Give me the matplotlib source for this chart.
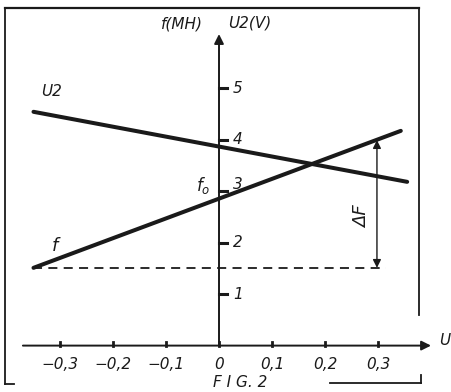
import matplotlib.pyplot as plt
from matplotlib.lines import Line2D

# values
u_ticks = [-0.3, -0.2, -0.1, 0.0, 0.1, 0.2, 0.3]
u_labels = ['\u22120,3', '\u22120,2', '\u22120,1', '0', '0,1', '0,2', '0,3']
v_ticks = [1, 2, 3, 4, 5]
v_labels = ['1', '2', '3', '4', '5']

u2_u = [-0.35, 0.355]
u2_v = [4.54, 3.18]
f_u = [-0.35, 0.343]
f_v = [1.51, 4.17]
f0 = 2.85
f_min = 1.51
df_u = 0.298
df_top = 3.99

plt.rcParams['font.family'] = 'DejaVu Sans'
plt.rcParams['font.style'] = 'italic'

fig = plt.figure(figsize=(4.52, 3.92), dpi=100)
ax = fig.add_axes([0, 0, 1, 1])
ax.set_xlim(-0.4132, 0.4396)
ax.set_ylim(-0.901, 6.711)
ax.axis('off')

ink = '#1a1a1a'

# axes with arrows
ax.annotate('', xy=(0.40, 0), xytext=(-0.37, 0),
            arrowprops=dict(arrowstyle='-|>', color=ink, lw=1.4,
                            mutation_scale=14, shrinkA=0, shrinkB=0))
ax.annotate('', xy=(0, 6.05), xytext=(0, 0),
            arrowprops=dict(arrowstyle='-|>', color=ink, lw=1.4,
                            mutation_scale=14, shrinkA=0, shrinkB=0))

# ticks
for u, lab in zip(u_ticks, u_labels):
    ax.plot([u, u], [0, 0.07], color=ink, lw=2)
    ax.text(u, -0.22, lab, ha='center', va='top', fontsize=11, color=ink)
for v, lab in zip(v_ticks, v_labels):
    ax.plot([0, 0.015], [v, v], color=ink, lw=2.2)
    dy = 0.12 if v == 3 else 0
    ax.text(0.026, v + dy, lab, ha='left', va='center', fontsize=11, color=ink)

# curves
ax.plot(u2_u, u2_v, color=ink, lw=2.9, solid_capstyle='round')
ax.plot(f_u, f_v, color=ink, lw=2.9, solid_capstyle='round')
ax.plot([f_u[0], 0.315], [f_min, f_min], color=ink, lw=1.3,
        linestyle=(0, (5, 3.5)))

# delta F arrow
ax.annotate('', xy=(df_u, df_top), xytext=(df_u, f_min),
            arrowprops=dict(arrowstyle='<|-|>', color=ink, lw=1.0,
                            mutation_scale=12, shrinkA=0, shrinkB=0))
ax.text(0.27, 2.5, '\u0394F', rotation=90, ha='center', va='center',
        fontsize=13, color=ink)

# labels
ax.text(-0.336, 4.78, 'U2', fontsize=11, color=ink, ha='left', va='bottom')
ax.text(-0.31, 1.75, 'f', fontsize=13, color=ink, ha='center', va='bottom')
ax.text(-0.03, f0 + 0.05, '$f_o$', fontsize=12, color=ink, ha='center',
        va='bottom')
ax.text(-0.03, 6.1, 'f(MH)', fontsize=11, color=ink, ha='right', va='bottom')
ax.text(0.017, 6.12, 'U2(V)', fontsize=11, color=ink, ha='left', va='bottom')
ax.text(0.425, 0.1, 'U', fontsize=11, color=ink, ha='center', va='center')

# frame of the drawing, in pixels
W, H = 452, 392
def px_line(xs, ys, lw=1.3):
    fig.add_artist(Line2D([x / W for x in xs], [1 - y / H for y in ys],
                          transform=fig.transFigure, color=ink, lw=lw))

px_line([5, 419], [8, 8], lw=1.6)
px_line([419, 419], [8, 315])
px_line([5, 5], [8, 384])
px_line([5, 14], [384, 384])
px_line([330, 421], [383, 383])
px_line([421, 421], [383, 375])

fig.text(240 / W, 1 - 375 / H, 'F I G. 2', fontsize=11, color=ink,
         ha='center', va='top')

fig.savefig('out.png', dpi=100, facecolor='white')
